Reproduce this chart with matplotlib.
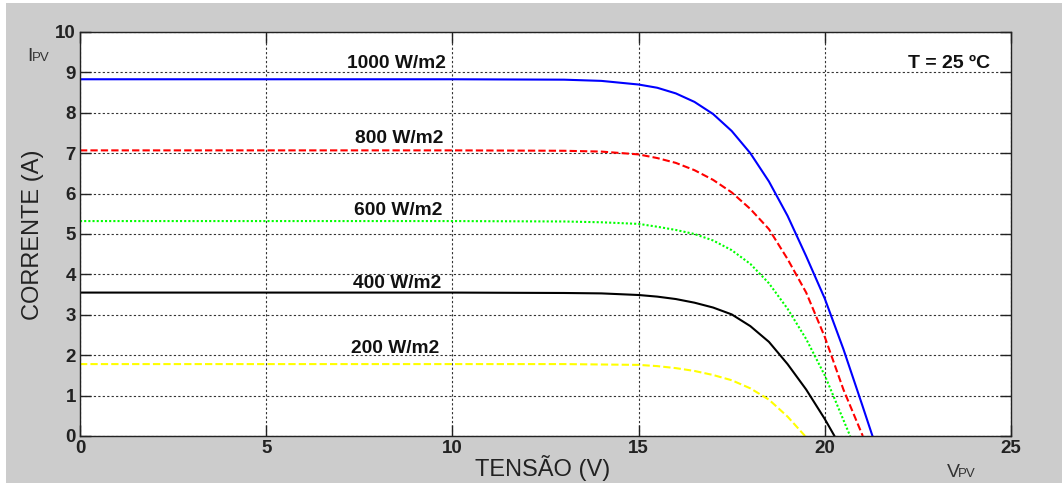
"""I-V curves of a PV module for several irradiance levels (T = 25 ºC)."""

import matplotlib.pyplot as plt
from matplotlib.patches import Rectangle

plt.rcParams['font.family'] = ['Liberation Sans', 'DejaVu Sans']

# values
v_1000 = [0, 5, 10, 13, 14, 15, 15.5, 16, 16.5, 17, 17.5, 18, 18.5, 19, 19.5,
          20, 20.5, 21, 21.28]
i_1000 = [8.83, 8.83, 8.83, 8.82, 8.79, 8.70, 8.62, 8.48, 8.27, 7.97, 7.55,
          7.00, 6.30, 5.45, 4.45, 3.40, 2.15, 0.78, 0.0]

v_800 = [0, 5, 10, 13, 14, 15, 15.5, 16, 16.5, 17, 17.5, 18, 18.5, 19, 19.5,
         20, 20.5, 21.02]
i_800 = [7.07, 7.07, 7.07, 7.06, 7.04, 6.97, 6.88, 6.76, 6.58, 6.34, 6.03,
         5.62, 5.12, 4.38, 3.55, 2.45, 1.15, 0.0]

v_600 = [0, 5, 10, 13, 14, 15, 15.5, 16, 16.5, 17, 17.5, 18, 18.5, 19, 19.5,
         20, 20.68]
i_600 = [5.32, 5.32, 5.32, 5.31, 5.29, 5.25, 5.18, 5.10, 5.00, 4.84, 4.60,
         4.26, 3.78, 3.15, 2.40, 1.50, 0.0]

v_400 = [0, 5, 10, 13, 14, 15, 15.5, 16, 16.5, 17, 17.5, 18, 18.5, 19, 19.5,
         20, 20.26]
i_400 = [3.55, 3.55, 3.55, 3.54, 3.53, 3.49, 3.45, 3.39, 3.30, 3.18, 3.01,
         2.72, 2.33, 1.78, 1.15, 0.42, 0.0]

v_200 = [0, 5, 10, 13, 14, 15, 15.5, 16, 16.5, 17, 17.5, 18, 18.5, 19, 19.47]
i_200 = [1.78, 1.78, 1.78, 1.78, 1.77, 1.76, 1.73, 1.68, 1.61, 1.51, 1.38,
         1.18, 0.90, 0.48, 0.0]

labels = ['1000 W/m2', '800 W/m2', '600 W/m2', '400 W/m2', '200 W/m2']
label_x = [9.83, 9.77, 9.72, 9.69, 9.64]
label_y = [9.11, 7.25, 5.47, 3.66, 2.05]

x_ticks = [0, 5, 10, 15, 20, 25]
y_ticks = list(range(0, 11))


def main():
    fig = plt.figure(figsize=(10.62, 4.83), dpi=100, facecolor='white')
    # grey MATLAB-style figure background
    fig.patches.append(Rectangle((6 / 1062, 0), 1 - 6 / 1062, 1 - 3 / 483,
                                 transform=fig.transFigure, facecolor='#cccccc',
                                 edgecolor='none', zorder=-10))

    ax = fig.add_axes([80 / 1062, 47 / 483, 931 / 1062, 404 / 483])
    ax.set_facecolor('white')

    ax.plot(v_1000, i_1000, color='#0000ff', linestyle='-', linewidth=1.5)
    ax.plot(v_800, i_800, color='#ff0000', linestyle=(0, (3.5, 1.5)), linewidth=1.5)
    ax.plot(v_600, i_600, color='#00ff00', linestyle=(0, (1, 1)), linewidth=1.5)
    ax.plot(v_400, i_400, color='black', linestyle='-', linewidth=1.5)
    ax.plot(v_200, i_200, color='#ffff00', linestyle=(0, (3.5, 1.5)), linewidth=1.5)

    for text, x, y in zip(labels, label_x, label_y):
        ax.text(x, y, text, ha='right', va='baseline', fontsize=13.8,
                fontweight='bold', color='#111111')
    ax.text(24.44, 9.11, 'T = 25 ºC', ha='right', va='baseline', fontsize=14,
            fontweight='bold', color='#111111')

    ax.set_xlim(0, 25)
    ax.set_ylim(0, 10)
    ax.set_xticks(x_ticks)
    ax.set_yticks(y_ticks)
    ax.tick_params(direction='in', top=True, right=True, length=8, width=1,
                   labelsize=13.5, colors='#222222', pad=3)
    for lab in ax.get_xticklabels() + ax.get_yticklabels():
        lab.set_fontweight('bold')
    for spine in ax.spines.values():
        spine.set_color('#222222')
        spine.set_linewidth(1)
    ax.grid(True, color='#333333', linestyle=(0, (2, 2)), linewidth=0.8)

    fig.text(543 / 1062, 1 - 468 / 483, 'TENSÃO (V)', ha='center', va='center',
             fontsize=17, color='#222222')
    fig.text(33 / 1062, 1 - 235 / 483, 'CORRENTE (A)', ha='center', va='center',
             rotation=90, fontsize=17, color='#222222')

    fig.text(27 / 1062, 1 - 61 / 483, 'I', ha='left', va='baseline',
             fontsize=14, color='#333333')
    fig.text(32 / 1062, 1 - 61 / 483, 'PV', ha='left', va='baseline',
             fontsize=9.5, color='#333333')
    fig.text(947 / 1062, 1 - 477 / 483, 'V', ha='left', va='baseline',
             fontsize=14, color='#333333')
    fig.text(958 / 1062, 1 - 477 / 483, 'PV', ha='left', va='baseline',
             fontsize=9.5, color='#333333')

    fig.savefig('out.png', dpi=100, facecolor=fig.get_facecolor())


if __name__ == '__main__':
    main()
